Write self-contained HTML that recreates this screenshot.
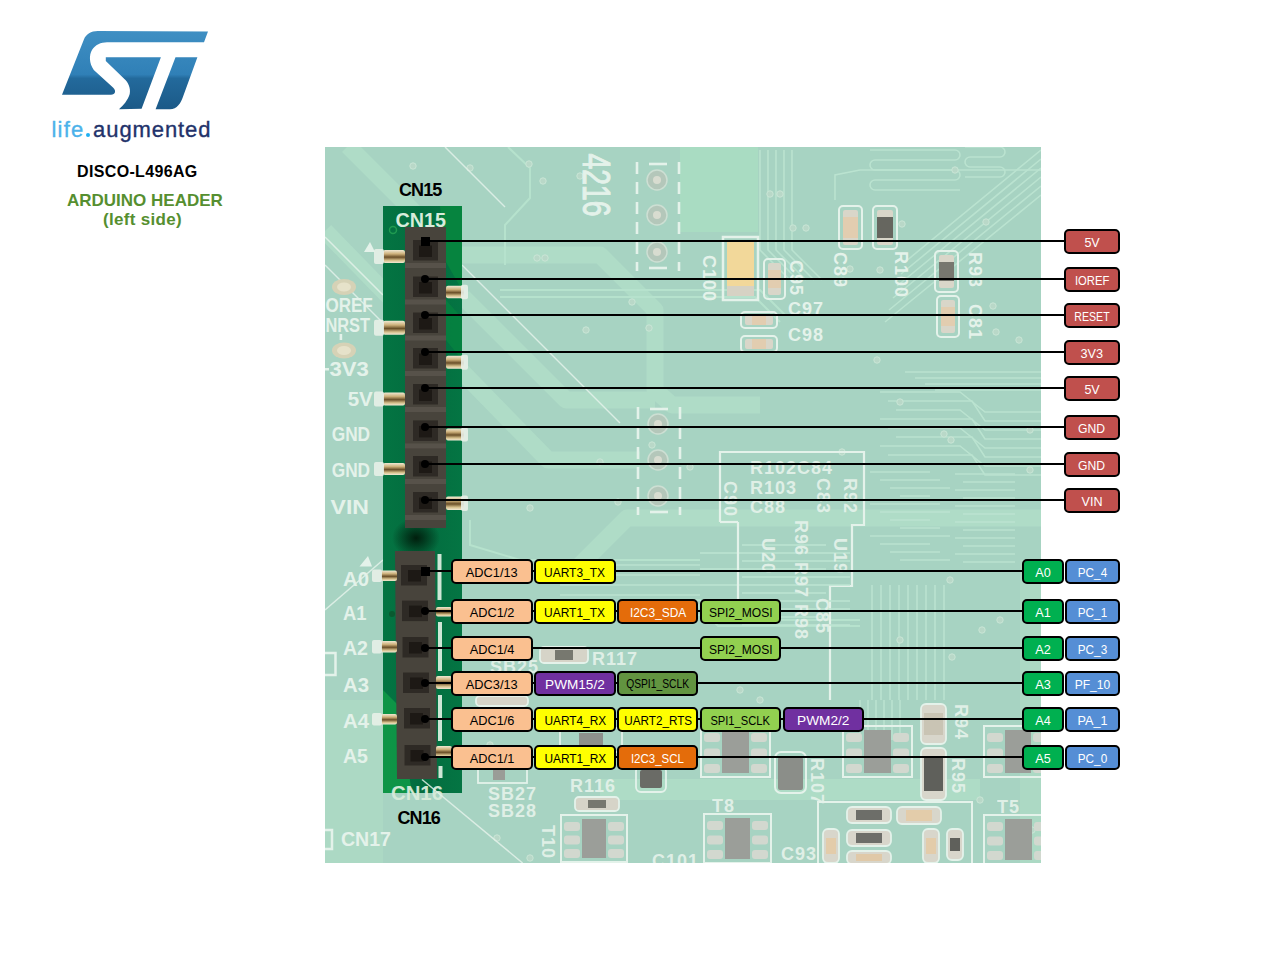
<!DOCTYPE html>
<html><head><meta charset="utf-8"><title>DISCO-L496AG Arduino header (left side)</title>
<style>
*{box-sizing:border-box;margin:0;padding:0}
html,body{width:1280px;height:960px;overflow:hidden;background:#fff;font-family:"Liberation Sans", sans-serif}
.a{position:absolute}
.bx{position:absolute;border:2px solid #000;border-radius:5px;display:flex;align-items:center;justify-content:center;white-space:nowrap;line-height:1}
.bx span{display:block;transform-origin:center}
.ln{position:absolute;height:2px;background:#000}
.dot{position:absolute;width:8px;height:8px;border-radius:50%;background:#000}
.sq{position:absolute;width:9px;height:9px;background:#000}
.t{position:absolute;white-space:nowrap;line-height:1}
</style></head><body>

<svg class="a" style="left:0;top:0" width="230" height="150" viewBox="0 0 230 150">
<defs><linearGradient id="lg" x1="0" y1="31" x2="0" y2="110" gradientUnits="userSpaceOnUse">
<stop offset="0" stop-color="#3f8fc3"/><stop offset="0.55" stop-color="#3080b7"/><stop offset="0.6" stop-color="#236a9c"/><stop offset="1" stop-color="#1b5987"/></linearGradient></defs>
<path fill="url(#lg)" d="M97.8,31 L208,31.6 L204,42.3 L107,42.3 C101,42.3 95,45 92,50 C89,55 89,63 93.8,70 L113,87.5 C116.5,90.5 115.5,94.7 111,94.7 L62,94.7 L83.9,39.6 C86,34 91,31 97.8,31 Z"/>
<path fill="url(#lg)" d="M105.8,57.3 L160.9,57.3 L141.6,108.8 L119,109.2 C123,106 128,100 129.7,94 C131,88 128,82 124.4,79 L105.8,61 Z"/>
<path fill="url(#lg)" d="M175.5,57.3 L197.4,57.3 L183,96.7 C181,103 177,109.2 170,109.2 L155.6,109.2 Z"/>
</svg>
<div class="t" style="left:51.5px;top:119.2px;font-size:22px;-webkit-text-stroke:0.35px"><span style="color:#4cb2ea;letter-spacing:1.2px;-webkit-text-stroke-color:#4cb2ea">life</span><span style="display:inline-block;width:4.4px;height:4.4px;border-radius:50%;background:#1fb0f2;margin-left:1.4px;margin-right:0.4px"></span><span style="color:#22326a;letter-spacing:0.9px;margin-left:2.5px;-webkit-text-stroke-color:#22326a">augmented</span></div>
<div class="t" style="left:77px;top:163.5px;font-size:16px;font-weight:bold;color:#000;letter-spacing:0.35px">DISCO-L496AG</div>
<div class="t" style="left:67px;top:191.5px;font-size:17px;font-weight:bold;color:#568f30">ARDUINO HEADER</div>
<div class="t" style="left:103px;top:211px;font-size:17px;letter-spacing:0.3px;font-weight:bold;color:#568f30">(left side)</div>
<svg class="a" style="left:325px;top:147px" width="716" height="716" viewBox="325 147 716 716" font-family="Liberation Sans, sans-serif"><rect x="325" y="147" width="716" height="716" fill="#a7d3c2"/>
<g fill="none" stroke="#afdcc7" stroke-width="17" stroke-linejoin="round">
<polyline points="348,146 457,255 600,255 655,310 655,390 672,405 760,405"/>
<polyline points="463,297 566,400 655,400"/>
<polyline points="325,231 548,460 640,460"/>
<polyline points="575,570 627,518 1041,518"/>
</g>
<g fill="#aedcc6">
<polygon points="680,147 758,147 758,232 680,232" fill="#a9dcc2"/>
<polygon points="325,700 383,700 383,863 325,863" fill="#acd9c4"/>
<polygon points="600,779 980,779 980,800 600,800"/>
<polygon points="1020,560 1041,560 1041,863 1020,863" fill="#acd9c4"/>
</g>
<g stroke="#b6e2cd" stroke-width="2" fill="none">
<polyline points="508,147 530,168 530,198 505,225 505,265"/>
<polyline points="500,290 760,290 785,315"/>
<polyline points="500,297 755,297 780,322"/>
<polyline points="470,520 470,545 520,560 700,560"/>
<polyline points="640,600 700,600 720,620 860,620"/>
<polyline points="640,606 698,606 718,626 860,626"/>
</g>
<g stroke="#bde5d2" stroke-width="1.6" fill="none" opacity="0.9">
<line x1="1041" y1="150" x2="905" y2="262"/>
<line x1="1041" y1="159" x2="901" y2="274"/>
<line x1="1041" y1="168" x2="897" y2="286"/>
<line x1="1041" y1="177" x2="893" y2="298"/>
<line x1="1041" y1="186" x2="889" y2="310"/>
<line x1="1041" y1="195" x2="885" y2="322"/>
<polyline points="880,392 960,392 985,412 1041,412"/>
<polyline points="888,401 972,401 985,421 1041,421"/>
<polyline points="896,410 960,410 985,430 1041,430"/>
<polyline points="880,419 972,419 985,439 1041,439"/>
<polyline points="888,428 960,428 985,448 1041,448"/>
<polyline points="896,437 972,437 985,457 1041,457"/>
<polyline points="880,446 960,446 985,466 1041,466"/>
<polyline points="888,455 972,455 985,475 1041,475"/>
<polyline points="870,472 930,472"/>
<polyline points="955,474 1015,474"/>
<polyline points="880,480 940,480"/>
<polyline points="963,482 1015,482"/>
<polyline points="890,488 950,488"/>
<polyline points="955,490 1015,490"/>
<polyline points="900,496 930,496"/>
<polyline points="963,498 1015,498"/>
<polyline points="870,504 940,504"/>
<polyline points="955,506 1015,506"/>
<polyline points="880,512 950,512"/>
<polyline points="963,514 1015,514"/>
<polyline points="890,520 930,520"/>
<polyline points="955,522 1015,522"/>
<polyline points="900,528 940,528"/>
<polyline points="963,530 1015,530"/>
<polyline points="870,536 950,536"/>
<polyline points="955,538 1015,538"/>
<polyline points="880,544 930,544"/>
<polyline points="963,546 1015,546"/>
<polyline points="890,552 940,552"/>
<polyline points="955,554 1015,554"/>
<polyline points="900,560 950,560"/>
<polyline points="963,562 1015,562"/>
<line x1="872" y1="585" x2="872" y2="700"/>
<line x1="881" y1="585" x2="881" y2="700"/>
<line x1="890" y1="585" x2="890" y2="700"/>
<line x1="899" y1="585" x2="899" y2="700"/>
<line x1="908" y1="585" x2="908" y2="700"/>
<line x1="917" y1="585" x2="917" y2="700"/>
<line x1="926" y1="585" x2="926" y2="700"/>
<line x1="935" y1="585" x2="935" y2="700"/>
<line x1="944" y1="585" x2="944" y2="700"/>
<line x1="560" y1="565" x2="700" y2="565"/>
<line x1="560" y1="575" x2="700" y2="575"/>
<line x1="560" y1="585" x2="700" y2="585"/>
<line x1="560" y1="595" x2="700" y2="595"/>
<line x1="560" y1="605" x2="700" y2="605"/>
<line x1="560" y1="615" x2="700" y2="615"/>
<polyline points="760,150 760,250 790,280"/>
<polyline points="768,150 768,250 798,280"/>
<polyline points="776,150 776,250 806,280"/>
<polyline points="784,150 784,250 814,280"/>
<polyline points="792,150 792,250 822,280"/>
<path d="M870,150 L955,150 A5,5 0 0 1 955,160 L875,160 A5,5 0 0 0 875,170 L955,170 A5,5 0 0 1 955,180 L875,180 A5,5 0 0 0 875,190 L960,190"/>
<path d="M965,147 L1000,147 A5,5 0 0 1 1000,157 L970,157 A5,5 0 0 0 970,167 L1000,167 A5,5 0 0 1 1000,177 L965,177"/>
<polyline points="835,200 835,175 860,170 1041,170"/>
<polyline points="905,372 1041,372"/>
<polyline points="915,378 1041,378"/>
<polyline points="925,384 1041,384"/>
<polyline points="935,390 1041,390"/>
<line x1="860" y1="700" x2="860" y2="740"/>
<line x1="868" y1="700" x2="868" y2="740"/>
<line x1="876" y1="700" x2="876" y2="740"/>
<line x1="884" y1="700" x2="884" y2="740"/>
<line x1="892" y1="700" x2="892" y2="740"/>
<line x1="900" y1="700" x2="900" y2="740"/>
</g>
<g fill="#b9d8c8" stroke="#c9e6d6" stroke-width="1">
<circle cx="413" cy="166" r="3.2"/>
<circle cx="470" cy="168" r="3.2"/>
<circle cx="529" cy="164" r="3.2"/>
<circle cx="543" cy="181" r="3.2"/>
<circle cx="580" cy="176" r="3.2"/>
<circle cx="537" cy="258" r="3.2"/>
<circle cx="545" cy="258" r="3.2"/>
<circle cx="649" cy="328" r="3.2"/>
<circle cx="586" cy="330" r="3.2"/>
<circle cx="632" cy="302" r="3.2"/>
<circle cx="600" cy="462" r="3.2"/>
<circle cx="652" cy="445" r="3.2"/>
<circle cx="530" cy="508" r="3.2"/>
<circle cx="618" cy="502" r="3.2"/>
<circle cx="690" cy="467" r="3.2"/>
<circle cx="770" cy="194" r="3.2"/>
<circle cx="780" cy="194" r="3.2"/>
<circle cx="793" cy="228" r="3.2"/>
<circle cx="806" cy="228" r="3.2"/>
<circle cx="850" cy="269" r="3.2"/>
<circle cx="880" cy="270" r="3.2"/>
<circle cx="902" cy="224" r="3.2"/>
<circle cx="955" cy="170" r="3.2"/>
<circle cx="986" cy="222" r="3.2"/>
<circle cx="993" cy="306" r="3.2"/>
<circle cx="996" cy="332" r="3.2"/>
<circle cx="1019" cy="340" r="3.2"/>
<circle cx="842" cy="452" r="3.2"/>
<circle cx="877" cy="360" r="3.2"/>
<circle cx="900" cy="402" r="3.2"/>
<circle cx="944" cy="434" r="3.2"/>
<circle cx="951" cy="440" r="3.2"/>
<circle cx="1030" cy="430" r="3.2"/>
<circle cx="1030" cy="470" r="3.2"/>
<circle cx="1000" cy="620" r="3.2"/>
<circle cx="982" cy="630" r="3.2"/>
<circle cx="950" cy="580" r="3.2"/>
<circle cx="900" cy="640" r="3.2"/>
<circle cx="952" cy="657" r="3.2"/>
<circle cx="760" cy="700" r="3.2"/>
<circle cx="740" cy="690" r="3.2"/>
<circle cx="980" cy="800" r="3.2"/>
<circle cx="1032" cy="830" r="3.2"/>
<circle cx="475" cy="760" r="3.2"/>
<circle cx="490" cy="745" r="3.2"/>
<circle cx="497" cy="838" r="3.2"/>
<circle cx="530" cy="858" r="3.2"/>
</g>
<g stroke="#e4f2ea" stroke-width="1.5" fill="none" opacity="0.85">
<line x1="445" y1="147" x2="505" y2="207"/>
<line x1="325" y1="237" x2="383" y2="295"/>
<line x1="325" y1="265" x2="383" y2="323"/>
<line x1="462" y1="265" x2="620" y2="423"/>
<line x1="325" y1="610" x2="383" y2="560"/>
</g>
<text x="325.4" y="312" font-size="20" font-weight="bold" fill="#e4f2ea" textLength="47.4" lengthAdjust="spacingAndGlyphs" opacity="1">OREF</text>
<text x="325.4" y="331.7" font-size="20" font-weight="bold" fill="#e4f2ea" textLength="44.6" lengthAdjust="spacingAndGlyphs" opacity="1">NRST</text>
<text x="329.4" y="376.4" font-size="20" font-weight="bold" fill="#e4f2ea" textLength="39.3" lengthAdjust="spacingAndGlyphs" opacity="1">3V3</text>
<text x="347.7" y="405.5" font-size="20" font-weight="bold" fill="#e4f2ea" textLength="25.1" lengthAdjust="spacingAndGlyphs" opacity="1">5V</text>
<text x="331.7" y="441.3" font-size="20" font-weight="bold" fill="#e4f2ea" textLength="38.4" lengthAdjust="spacingAndGlyphs" opacity="1">GND</text>
<text x="331.7" y="477.4" font-size="20" font-weight="bold" fill="#e4f2ea" textLength="38.4" lengthAdjust="spacingAndGlyphs" opacity="1">GND</text>
<text x="330.6" y="514" font-size="20" font-weight="bold" fill="#e4f2ea" textLength="38.4" lengthAdjust="spacingAndGlyphs" opacity="1">VIN</text>
<text x="343" y="586" font-size="20" font-weight="bold" fill="#e4f2ea" textLength="25.9" lengthAdjust="spacingAndGlyphs" opacity="1">A0</text>
<text x="343" y="619.5" font-size="20" font-weight="bold" fill="#e4f2ea" textLength="23.5" lengthAdjust="spacingAndGlyphs" opacity="1">A1</text>
<text x="343" y="654.7" font-size="20" font-weight="bold" fill="#e4f2ea" textLength="25.0" lengthAdjust="spacingAndGlyphs" opacity="1">A2</text>
<text x="343" y="692" font-size="20" font-weight="bold" fill="#e4f2ea" textLength="26.0" lengthAdjust="spacingAndGlyphs" opacity="1">A3</text>
<text x="343" y="728" font-size="20" font-weight="bold" fill="#e4f2ea" textLength="26.0" lengthAdjust="spacingAndGlyphs" opacity="1">A4</text>
<text x="343" y="763" font-size="20" font-weight="bold" fill="#e4f2ea" textLength="25.0" lengthAdjust="spacingAndGlyphs" opacity="1">A5</text>
<text x="341" y="846" font-size="20" font-weight="bold" fill="#e4f2ea" textLength="50.0" lengthAdjust="spacingAndGlyphs" opacity="1">CN17</text>
<rect x="325" y="368" width="4" height="2.5" fill="#e4f2ea"/><rect x="339.6" y="334" width="2.6" height="6" fill="#e4f2ea"/>
<polygon points="359.5,566.4 372,566.4 368,556" fill="#e4f2ea"/>
<polygon points="364,252 375,252 370,242" fill="#e4f2ea"/>
<ellipse cx="344" cy="287" rx="12" ry="8" fill="#d6d2b6"/><ellipse cx="344" cy="287" rx="7" ry="4.5" fill="#e6e2ca"/>
<ellipse cx="344" cy="350.5" rx="12" ry="8" fill="#d6d2b6"/><ellipse cx="344" cy="350.5" rx="7" ry="4.5" fill="#e6e2ca"/>
<rect x="320" y="653" width="15.5" height="22" fill="none" stroke="#e4f2ea" stroke-width="2.5"/>
<rect x="320" y="830" width="12" height="19" fill="none" stroke="#e4f2ea" stroke-width="2.5"/>
<text x="0" y="0" font-size="38" fill="#e4f2ea" transform="translate(583,153.5) rotate(90)" textLength="63" lengthAdjust="spacingAndGlyphs" stroke="#e4f2ea" stroke-width="1">4216</text>
<g stroke="#e4f2ea" stroke-width="2.6" stroke-dasharray="12 8"><line x1="637" y1="162" x2="637" y2="271"/><line x1="679" y1="162" x2="679" y2="271"/></g>
<line x1="649" y1="164" x2="667" y2="164" stroke="#e4f2ea" stroke-width="2.6"/>
<line x1="649" y1="268" x2="667" y2="268" stroke="#e4f2ea" stroke-width="2.6"/>
<circle cx="657" cy="180" r="10" fill="#b4c7ba" stroke="#cddfd3" stroke-width="1.5"/><circle cx="657" cy="180" r="4" fill="#d8dcd0"/>
<circle cx="657" cy="215" r="10" fill="#b4c7ba" stroke="#cddfd3" stroke-width="1.5"/><circle cx="657" cy="215" r="4" fill="#d8dcd0"/>
<circle cx="657" cy="252" r="10" fill="#b4c7ba" stroke="#cddfd3" stroke-width="1.5"/><circle cx="657" cy="252" r="4" fill="#d8dcd0"/>
<g stroke="#e4f2ea" stroke-width="2.6" stroke-dasharray="12 8"><line x1="638" y1="407" x2="638" y2="515"/><line x1="680" y1="407" x2="680" y2="515"/></g>
<line x1="650" y1="409" x2="668" y2="409" stroke="#e4f2ea" stroke-width="2.6"/>
<line x1="650" y1="512" x2="668" y2="512" stroke="#e4f2ea" stroke-width="2.6"/>
<circle cx="658" cy="424" r="10" fill="#b4c7ba" stroke="#cddfd3" stroke-width="1.5"/><circle cx="658" cy="424" r="4" fill="#d8dcd0"/>
<circle cx="658" cy="460" r="10" fill="#b4c7ba" stroke="#cddfd3" stroke-width="1.5"/><circle cx="658" cy="460" r="4" fill="#d8dcd0"/>
<circle cx="658" cy="496" r="10" fill="#b4c7ba" stroke="#cddfd3" stroke-width="1.5"/><circle cx="658" cy="496" r="4" fill="#d8dcd0"/>
<rect x="723" y="237" width="35" height="63" fill="none" stroke="#e4f2ea" stroke-width="2.5"/>
<rect x="727" y="241" width="27" height="50" fill="#f2d89a"/>
<rect x="727" y="286" width="27" height="10" fill="#d6d2c4"/>
<text x="703" y="255" font-size="18" font-weight="bold" fill="#e4f2ea" letter-spacing="1" text-anchor="start" opacity="1" transform="rotate(90 703 255)">C100</text>
<rect x="764" y="259" width="21" height="40" rx="4" fill="none" stroke="#e4f2ea" stroke-width="2"/>
<rect x="768" y="263" width="13" height="32" rx="2" fill="#d9d6c9"/><rect x="768" y="270" width="13" height="18" fill="#e2cdb0"/>
<rect x="741" y="312" width="36" height="16" rx="4" fill="none" stroke="#e4f2ea" stroke-width="2"/>
<rect x="745" y="315" width="28" height="10" rx="2" fill="#d9d6c9"/><rect x="752" y="315" width="14" height="10" fill="#e2cdb0"/>
<rect x="741" y="336" width="36" height="16" rx="4" fill="none" stroke="#e4f2ea" stroke-width="2"/>
<rect x="745" y="339" width="28" height="10" rx="2" fill="#d9d6c9"/><rect x="752" y="339" width="14" height="10" fill="#e2cdb0"/>
<rect x="839" y="206" width="23" height="43" rx="4" fill="none" stroke="#e4f2ea" stroke-width="2"/>
<rect x="843" y="210" width="15" height="35" rx="2" fill="#d9d6c9"/><rect x="843" y="217" width="15" height="21" fill="#e2cdb0"/>
<rect x="873" y="206" width="24" height="43" rx="4" fill="none" stroke="#e4f2ea" stroke-width="2"/>
<rect x="877" y="210" width="16" height="35" rx="2" fill="#d9d6c9"/><rect x="877" y="217" width="16" height="21" fill="#66665f"/>
<rect x="935" y="251" width="23" height="41" rx="4" fill="none" stroke="#e4f2ea" stroke-width="2"/>
<rect x="939" y="255" width="15" height="33" rx="2" fill="#d9d6c9"/><rect x="939" y="262" width="15" height="19" fill="#77776f"/>
<rect x="937" y="296" width="22" height="41" rx="4" fill="none" stroke="#e4f2ea" stroke-width="2"/>
<rect x="941" y="300" width="14" height="33" rx="2" fill="#d9d6c9"/><rect x="941" y="307" width="14" height="19" fill="#e2cdb0"/>
<text x="788" y="315" font-size="18" font-weight="bold" fill="#e4f2ea" letter-spacing="1" text-anchor="start" opacity="1">C97</text>
<text x="788" y="341" font-size="18" font-weight="bold" fill="#e4f2ea" letter-spacing="1" text-anchor="start" opacity="1">C98</text>
<text x="790" y="260" font-size="18" font-weight="bold" fill="#e4f2ea" letter-spacing="1" text-anchor="start" opacity="1" transform="rotate(90 790 260)">C95</text>
<text x="834" y="252" font-size="18" font-weight="bold" fill="#e4f2ea" letter-spacing="1" text-anchor="start" opacity="1" transform="rotate(90 834 252)">C89</text>
<text x="895" y="251" font-size="18" font-weight="bold" fill="#e4f2ea" letter-spacing="1" text-anchor="start" opacity="1" transform="rotate(90 895 251)">R100</text>
<text x="969" y="252" font-size="18" font-weight="bold" fill="#e4f2ea" letter-spacing="1" text-anchor="start" opacity="1" transform="rotate(90 969 252)">R93</text>
<text x="969" y="304" font-size="18" font-weight="bold" fill="#e4f2ea" letter-spacing="1" text-anchor="start" opacity="1" transform="rotate(90 969 304)">C81</text>
<polyline points="720,522 720,452 864,452 864,525 852,525 852,586 830,586 830,700" fill="none" stroke="#e4f2ea" stroke-width="2.2"/>
<g stroke="#bde5d2" stroke-width="1.5"><line x1="742" y1="545" x2="826" y2="545"/><line x1="700" y1="553" x2="850" y2="553"/><line x1="742" y1="561" x2="850" y2="561"/><line x1="700" y1="569" x2="826" y2="569"/><line x1="742" y1="577" x2="850" y2="577"/><line x1="700" y1="585" x2="850" y2="585"/><line x1="742" y1="593" x2="826" y2="593"/><line x1="700" y1="601" x2="850" y2="601"/><line x1="742" y1="609" x2="850" y2="609"/><line x1="700" y1="617" x2="826" y2="617"/><line x1="742" y1="625" x2="850" y2="625"/></g>
<polyline points="738,522 738,620" fill="none" stroke="#e4f2ea" stroke-width="2.2"/>
<polyline points="720,522 738,522" fill="none" stroke="#e4f2ea" stroke-width="2.2"/>
<text x="750" y="474" font-size="18" font-weight="bold" fill="#e4f2ea" letter-spacing="1" text-anchor="start" opacity="0.92">R102C84</text>
<text x="750" y="494" font-size="18" font-weight="bold" fill="#e4f2ea" letter-spacing="1" text-anchor="start" opacity="0.92">R103</text>
<text x="750" y="513" font-size="18" font-weight="bold" fill="#e4f2ea" letter-spacing="1" text-anchor="start" opacity="0.92">C88</text>
<text x="724" y="481" font-size="18" font-weight="bold" fill="#e4f2ea" letter-spacing="1" text-anchor="start" opacity="0.92" transform="rotate(90 724 481)">C90</text>
<text x="817" y="478" font-size="18" font-weight="bold" fill="#e4f2ea" letter-spacing="1" text-anchor="start" opacity="0.92" transform="rotate(90 817 478)">C83</text>
<text x="844" y="478" font-size="18" font-weight="bold" fill="#e4f2ea" letter-spacing="1" text-anchor="start" opacity="0.92" transform="rotate(90 844 478)">R92</text>
<text x="795" y="520" font-size="18" font-weight="bold" fill="#e4f2ea" letter-spacing="1" text-anchor="start" opacity="0.92" transform="rotate(90 795 520)">R96 R97 R98</text>
<text x="816" y="598" font-size="18" font-weight="bold" fill="#e4f2ea" letter-spacing="1" text-anchor="start" opacity="0.92" transform="rotate(90 816 598)">C85</text>
<text x="762" y="538" font-size="18" font-weight="bold" fill="#e4f2ea" letter-spacing="1" text-anchor="start" opacity="0.92" transform="rotate(90 762 538)">U20</text>
<text x="834" y="538" font-size="18" font-weight="bold" fill="#e4f2ea" letter-spacing="1" text-anchor="start" opacity="0.92" transform="rotate(90 834 538)">U19</text>
<text x="592" y="665" font-size="18" font-weight="bold" fill="#e4f2ea" letter-spacing="1" text-anchor="start" opacity="0.92">R117</text>
<text x="488" y="800" font-size="18" font-weight="bold" fill="#e4f2ea" letter-spacing="1" text-anchor="start" opacity="0.92">SB27</text>
<text x="488" y="817" font-size="18" font-weight="bold" fill="#e4f2ea" letter-spacing="1" text-anchor="start" opacity="0.92">SB28</text>
<text x="570" y="792" font-size="18" font-weight="bold" fill="#e4f2ea" letter-spacing="1" text-anchor="start" opacity="0.92">R116</text>
<text x="712" y="811.7" font-size="18" font-weight="bold" fill="#e4f2ea" letter-spacing="1" text-anchor="start" opacity="0.92">T8</text>
<text x="997" y="813" font-size="18" font-weight="bold" fill="#e4f2ea" letter-spacing="1" text-anchor="start" opacity="0.92">T5</text>
<text x="781" y="860" font-size="18" font-weight="bold" fill="#e4f2ea" letter-spacing="1" text-anchor="start" opacity="0.92">C93</text>
<text x="952" y="758" font-size="18" font-weight="bold" fill="#e4f2ea" letter-spacing="1" text-anchor="start" opacity="0.92" transform="rotate(90 952 758)">R95</text>
<text x="811" y="758" font-size="18" font-weight="bold" fill="#e4f2ea" letter-spacing="1" text-anchor="start" opacity="0.92" transform="rotate(90 811 758)">R107</text>
<text x="542" y="825" font-size="18" font-weight="bold" fill="#e4f2ea" letter-spacing="1" text-anchor="start" opacity="0.92" transform="rotate(90 542 825)">T10</text>
<text x="955" y="704" font-size="18" font-weight="bold" fill="#e4f2ea" letter-spacing="1" text-anchor="start" opacity="0.92" transform="rotate(90 955 704)">R94</text>
<text x="652" y="867" font-size="18" font-weight="bold" fill="#e4f2ea" letter-spacing="1" text-anchor="start" opacity="0.92">C101</text>
<rect x="701" y="726" width="69" height="51" fill="none" stroke="#e4f2ea" stroke-width="2"/>
<rect x="704" y="733.0" width="16" height="9" rx="3" fill="#d2d8cf"/><rect x="751" y="733.0" width="16" height="9" rx="3" fill="#d2d8cf"/>
<rect x="704" y="748.5" width="16" height="9" rx="3" fill="#d2d8cf"/><rect x="751" y="748.5" width="16" height="9" rx="3" fill="#d2d8cf"/>
<rect x="704" y="764.0" width="16" height="9" rx="3" fill="#d2d8cf"/><rect x="751" y="764.0" width="16" height="9" rx="3" fill="#d2d8cf"/>
<rect x="722" y="730" width="27" height="43" fill="#9b9e99"/>
<rect x="843" y="726" width="69" height="51" fill="none" stroke="#e4f2ea" stroke-width="2"/>
<rect x="846" y="733.0" width="16" height="9" rx="3" fill="#d2d8cf"/><rect x="893" y="733.0" width="16" height="9" rx="3" fill="#d2d8cf"/>
<rect x="846" y="748.5" width="16" height="9" rx="3" fill="#d2d8cf"/><rect x="893" y="748.5" width="16" height="9" rx="3" fill="#d2d8cf"/>
<rect x="846" y="764.0" width="16" height="9" rx="3" fill="#d2d8cf"/><rect x="893" y="764.0" width="16" height="9" rx="3" fill="#d2d8cf"/>
<rect x="864" y="730" width="27" height="43" fill="#9b9e99"/>
<rect x="984" y="726" width="68" height="51" fill="none" stroke="#e4f2ea" stroke-width="2"/>
<rect x="987" y="733.0" width="16" height="9" rx="3" fill="#d2d8cf"/><rect x="1033" y="733.0" width="16" height="9" rx="3" fill="#d2d8cf"/>
<rect x="987" y="748.5" width="16" height="9" rx="3" fill="#d2d8cf"/><rect x="1033" y="748.5" width="16" height="9" rx="3" fill="#d2d8cf"/>
<rect x="987" y="764.0" width="16" height="9" rx="3" fill="#d2d8cf"/><rect x="1033" y="764.0" width="16" height="9" rx="3" fill="#d2d8cf"/>
<rect x="1005" y="730" width="26" height="43" fill="#9b9e99"/>
<rect x="704" y="814" width="67" height="49" fill="none" stroke="#e4f2ea" stroke-width="2"/>
<rect x="707" y="821.0" width="16" height="9" rx="3" fill="#d2d8cf"/><rect x="752" y="821.0" width="16" height="9" rx="3" fill="#d2d8cf"/>
<rect x="707" y="835.5" width="16" height="9" rx="3" fill="#d2d8cf"/><rect x="752" y="835.5" width="16" height="9" rx="3" fill="#d2d8cf"/>
<rect x="707" y="850.0" width="16" height="9" rx="3" fill="#d2d8cf"/><rect x="752" y="850.0" width="16" height="9" rx="3" fill="#d2d8cf"/>
<rect x="725" y="818" width="25" height="41" fill="#9b9e99"/>
<rect x="984" y="815" width="69" height="49" fill="none" stroke="#e4f2ea" stroke-width="2"/>
<rect x="987" y="822.0" width="16" height="9" rx="3" fill="#d2d8cf"/><rect x="1034" y="822.0" width="16" height="9" rx="3" fill="#d2d8cf"/>
<rect x="987" y="836.5" width="16" height="9" rx="3" fill="#d2d8cf"/><rect x="1034" y="836.5" width="16" height="9" rx="3" fill="#d2d8cf"/>
<rect x="987" y="851.0" width="16" height="9" rx="3" fill="#d2d8cf"/><rect x="1034" y="851.0" width="16" height="9" rx="3" fill="#d2d8cf"/>
<rect x="1005" y="819" width="27" height="41" fill="#9b9e99"/>
<rect x="561" y="815" width="66" height="47" fill="none" stroke="#e4f2ea" stroke-width="2"/>
<rect x="564" y="822.0" width="16" height="9" rx="3" fill="#d2d8cf"/><rect x="608" y="822.0" width="16" height="9" rx="3" fill="#d2d8cf"/>
<rect x="564" y="835.5" width="16" height="9" rx="3" fill="#d2d8cf"/><rect x="608" y="835.5" width="16" height="9" rx="3" fill="#d2d8cf"/>
<rect x="564" y="849.0" width="16" height="9" rx="3" fill="#d2d8cf"/><rect x="608" y="849.0" width="16" height="9" rx="3" fill="#d2d8cf"/>
<rect x="582" y="819" width="24" height="39" fill="#9b9e99"/>
<rect x="775" y="752" width="31" height="41" rx="6" fill="none" stroke="#e4f2ea" stroke-width="2"/><rect x="778" y="757" width="25" height="33" rx="2" fill="#8b8e89"/>
<polyline points="818,863 818,802 972,802 972,863" fill="none" stroke="#e4f2ea" stroke-width="2"/>
<rect x="921" y="748" width="25" height="52" rx="5" fill="#d8d6cb" stroke="#e4f2ea" stroke-width="1.8"/>
<rect x="924" y="757" width="19" height="34" fill="#5f605b"/>
<rect x="921" y="704" width="25" height="40" rx="5" fill="#d8d6cb" stroke="#e4f2ea" stroke-width="1.8"/>
<rect x="924" y="713" width="19" height="22" fill="#c9c4b4"/>
<rect x="847" y="807" width="44" height="16" rx="5" fill="#d8d6cb" stroke="#e4f2ea" stroke-width="1.8"/>
<rect x="856" y="810" width="26" height="10" fill="#6d6e69"/>
<rect x="847" y="830" width="44" height="16" rx="5" fill="#d8d6cb" stroke="#e4f2ea" stroke-width="1.8"/>
<rect x="856" y="833" width="26" height="10" fill="#6d6e69"/>
<rect x="847" y="851" width="44" height="13" rx="5" fill="#d8d6cb" stroke="#e4f2ea" stroke-width="1.8"/>
<rect x="856" y="854" width="26" height="7" fill="#e0c9a8"/>
<rect x="897" y="807" width="44" height="17" rx="5" fill="#d8d6cb" stroke="#e4f2ea" stroke-width="1.8"/>
<rect x="906" y="810" width="26" height="11" fill="#e3ccaa"/>
<rect x="823" y="829" width="16" height="34" rx="5" fill="#d8d6cb" stroke="#e4f2ea" stroke-width="1.8"/>
<rect x="826" y="838" width="10" height="16" fill="#e3ccaa"/>
<rect x="923" y="829" width="16" height="34" rx="5" fill="#d8d6cb" stroke="#e4f2ea" stroke-width="1.8"/>
<rect x="926" y="838" width="10" height="16" fill="#e3ccaa"/>
<rect x="947" y="829" width="16" height="31" rx="5" fill="#d8d6cb" stroke="#e4f2ea" stroke-width="1.8"/>
<rect x="950" y="838" width="10" height="13" fill="#5f605b"/>
<rect x="540" y="647" width="48" height="16" rx="4" fill="#d6d4c8" stroke="#e4f2ea" stroke-width="1.8"/>
<rect x="555.0" y="650" width="18" height="10" fill="#77786f"/>
<rect x="575" y="797" width="44" height="14" rx="4" fill="#d6d4c8" stroke="#e4f2ea" stroke-width="1.8"/>
<rect x="588.0" y="800" width="18" height="8" fill="#77786f"/>
<rect x="476" y="696" width="52" height="10" rx="4" fill="#d6d4c8" stroke="#e4f2ea" stroke-width="1.8"/>
<text x="490" y="673" font-size="18" font-weight="bold" fill="#e4f2ea" letter-spacing="1" text-anchor="start" opacity="0.9">SB25</text>
<rect x="560" y="728" width="62" height="24" fill="none" stroke="#e4f2ea" stroke-width="1.8"/><rect x="579" y="733" width="24" height="14" fill="#8e918c"/>
<rect x="636" y="766" width="30" height="26" rx="5" fill="none" stroke="#e4f2ea" stroke-width="1.8"/><rect x="640" y="770" width="22" height="18" rx="2" fill="#6a6b66"/>
<rect x="478" y="766" width="49" height="17" fill="none" stroke="#e4f2ea" stroke-width="1.8"/><rect x="493" y="769" width="12" height="11" fill="#9a9c97"/>
<defs><linearGradient id="sg" x1="0" y1="0" x2="1" y2="0"><stop offset="0" stop-color="#047442"/><stop offset="0.5" stop-color="#036c3f"/><stop offset="1" stop-color="#047543"/></linearGradient><radialGradient id="sh" cx="0.5" cy="0.5" r="0.5"><stop offset="0" stop-color="#001a0a" stop-opacity="0.95"/><stop offset="1" stop-color="#001a0a" stop-opacity="0"/></radialGradient></defs>
<rect x="383" y="206" width="79" height="587" fill="url(#sg)"/>
<polygon points="383,690 383,793 412,793 398,705" fill="#11a048" opacity="0.75"/>
<polygon points="440,206 462,206 462,290 446,262" fill="#07883f" opacity="0.8"/>
<polygon points="446,300 462,318 462,360 446,340" fill="#07883f" opacity="0.6"/>
<ellipse cx="416" cy="538" rx="24" ry="20" fill="url(#sh)"/>
<text x="395.5" y="226.6" font-size="20" font-weight="bold" fill="#d8ecdb" textLength="50.5" lengthAdjust="spacingAndGlyphs">CN15</text>
<text x="391" y="799.5" font-size="20" font-weight="bold" fill="#d8ecdb" textLength="52" lengthAdjust="spacingAndGlyphs" opacity="0.95">CN16</text>
<g fill="#cfe6d6"><rect x="437.5" y="554" width="4" height="46"/><rect x="438" y="622" width="4" height="49"/><rect x="438" y="695" width="4" height="46"/><rect x="438.5" y="766" width="4" height="12"/></g>
<line x1="422" y1="779.5" x2="522.6" y2="863" stroke="#e4f2ea" stroke-width="1.5" opacity="0.85"/>
<circle cx="393" cy="230" r="3.5" fill="none" stroke="#1f9a50" stroke-width="1.5"/><circle cx="392" cy="614" r="3" fill="#0a5a30"/>
<defs><linearGradient id="pgl" x1="0" y1="0" x2="0" y2="1"><stop offset="0" stop-color="#f0e9d4"/><stop offset="0.3" stop-color="#cdb07a"/><stop offset="0.55" stop-color="#6a4f28"/><stop offset="0.8" stop-color="#d6c08c"/><stop offset="1" stop-color="#f2ead6"/></linearGradient></defs>
<rect x="405" y="227" width="41" height="301" fill="#48443c"/>
<rect x="405" y="263" width="41" height="5" fill="#57524a"/>
<rect x="413" y="240" width="25" height="20.5" fill="#2e2a25"/>
<rect x="419" y="245.5" width="13" height="11.5" fill="#1d1915"/>
<rect x="383" y="250" width="22" height="13" rx="2" fill="url(#pgl)"/>
<rect x="374" y="249" width="10" height="15" rx="2" fill="#e8efe8" opacity="0.9"/>
<rect x="405" y="299.5" width="41" height="5" fill="#57524a"/>
<rect x="413" y="276.5" width="25" height="20.5" fill="#2e2a25"/>
<rect x="419" y="282.0" width="13" height="11.5" fill="#1d1915"/>
<rect x="446" y="285.8" width="18" height="12.5" rx="2" fill="url(#pgl)"/>
<rect x="461" y="284.8" width="7" height="14.5" rx="2" fill="#e8efe8" opacity="0.9"/>
<rect x="405" y="335.5" width="41" height="5" fill="#57524a"/>
<rect x="413" y="312.5" width="25" height="20.5" fill="#2e2a25"/>
<rect x="419" y="318.0" width="13" height="11.5" fill="#1d1915"/>
<rect x="383" y="320.8" width="22" height="14" rx="2" fill="url(#pgl)"/>
<rect x="374" y="319.8" width="10" height="16" rx="2" fill="#e8efe8" opacity="0.9"/>
<rect x="405" y="371" width="41" height="5" fill="#57524a"/>
<rect x="413" y="348" width="25" height="20.5" fill="#2e2a25"/>
<rect x="419" y="353.5" width="13" height="11.5" fill="#1d1915"/>
<rect x="446" y="355.8" width="18" height="13" rx="2" fill="url(#pgl)"/>
<rect x="461" y="354.8" width="7" height="15" rx="2" fill="#e8efe8" opacity="0.9"/>
<rect x="405" y="407" width="41" height="5" fill="#57524a"/>
<rect x="413" y="384" width="25" height="20.5" fill="#2e2a25"/>
<rect x="419" y="389.5" width="13" height="11.5" fill="#1d1915"/>
<rect x="383" y="392.5" width="22" height="13" rx="2" fill="url(#pgl)"/>
<rect x="374" y="391.5" width="10" height="15" rx="2" fill="#e8efe8" opacity="0.9"/>
<rect x="405" y="443.4" width="41" height="5" fill="#57524a"/>
<rect x="413" y="420.4" width="25" height="20.5" fill="#2e2a25"/>
<rect x="419" y="425.9" width="13" height="11.5" fill="#1d1915"/>
<rect x="446" y="428.4" width="18" height="12" rx="2" fill="url(#pgl)"/>
<rect x="461" y="427.4" width="7" height="14" rx="2" fill="#e8efe8" opacity="0.9"/>
<rect x="405" y="479" width="41" height="5" fill="#57524a"/>
<rect x="413" y="456" width="25" height="20.5" fill="#2e2a25"/>
<rect x="419" y="461.5" width="13" height="11.5" fill="#1d1915"/>
<rect x="383" y="463" width="22" height="12" rx="2" fill="url(#pgl)"/>
<rect x="374" y="462" width="10" height="14" rx="2" fill="#e8efe8" opacity="0.9"/>
<rect x="405" y="515" width="41" height="5" fill="#57524a"/>
<rect x="413" y="492" width="25" height="20.5" fill="#2e2a25"/>
<rect x="419" y="497.5" width="13" height="11.5" fill="#1d1915"/>
<rect x="446" y="496.5" width="18" height="13.5" rx="2" fill="url(#pgl)"/>
<rect x="461" y="495.5" width="7" height="15.5" rx="2" fill="#e8efe8" opacity="0.9"/>
<polygon points="395,551 435,551 437,779 397,779" fill="#48443c"/>
<rect x="401" y="565" width="26" height="20.5" fill="#2e2a25"/>
<rect x="408" y="570" width="13" height="11.5" fill="#1d1915"/>
<rect x="381" y="570.6" width="16" height="10.5" rx="2" fill="url(#pgl)"/>
<rect x="372" y="569.6" width="10" height="12.5" rx="2" fill="#e8efe8" opacity="0.9"/>
<rect x="402" y="600.6" width="26" height="20.5" fill="#2e2a25"/>
<rect x="409" y="605.6" width="13" height="11.5" fill="#1d1915"/>
<rect x="436" y="607" width="16" height="9.5" rx="2" fill="url(#pgl)"/>
<rect x="402.5" y="637" width="26" height="20.5" fill="#2e2a25"/>
<rect x="409" y="642" width="13" height="11.5" fill="#1d1915"/>
<rect x="381" y="641" width="16" height="11.5" rx="2" fill="url(#pgl)"/>
<rect x="372" y="640" width="10" height="13.5" rx="2" fill="#e8efe8" opacity="0.9"/>
<rect x="403" y="672.5" width="26" height="20.5" fill="#2e2a25"/>
<rect x="410" y="677.5" width="13" height="11.5" fill="#1d1915"/>
<rect x="436" y="676" width="16" height="13" rx="2" fill="url(#pgl)"/>
<rect x="404" y="708" width="26" height="20.5" fill="#2e2a25"/>
<rect x="410" y="713" width="13" height="11.5" fill="#1d1915"/>
<rect x="381" y="714" width="16" height="10.5" rx="2" fill="url(#pgl)"/>
<rect x="372" y="713" width="10" height="12.5" rx="2" fill="#e8efe8" opacity="0.9"/>
<rect x="404.5" y="745" width="26" height="20.5" fill="#2e2a25"/>
<rect x="410.5" y="750" width="13" height="11.5" fill="#1d1915"/>
<rect x="436" y="746" width="16" height="11.5" rx="2" fill="url(#pgl)"/></svg>
<div class="t" style="left:399px;top:181px;font-size:18px;font-weight:bold;letter-spacing:-0.9px">CN15</div>
<div class="t" style="left:397.5px;top:809px;font-size:18px;font-weight:bold;letter-spacing:-0.9px">CN16</div>
<div class="ln" style="left:425px;top:240px;width:641px"></div>
<div class="sq" style="left:421px;top:237px"></div>
<div class="bx" style="left:1064.30px;top:229.30px;width:55.40px;height:24.40px;background:#c0504d;color:#fff;font-size:13.18px"><span style="transform:translateY(0.5px) scaleX(0.953)">5V</span></div>
<div class="ln" style="left:425px;top:278px;width:641px"></div>
<div class="dot" style="left:421px;top:275px"></div>
<div class="bx" style="left:1064.30px;top:267.30px;width:55.40px;height:24.40px;background:#c0504d;color:#fff;font-size:13.18px"><span style="transform:translateY(0.5px) scaleX(0.854)">IOREF</span></div>
<div class="ln" style="left:425px;top:314px;width:641px"></div>
<div class="dot" style="left:421px;top:311px"></div>
<div class="bx" style="left:1064.30px;top:303.30px;width:55.40px;height:24.40px;background:#c0504d;color:#fff;font-size:13.18px"><span style="transform:translateY(0.5px) scaleX(0.803)">RESET</span></div>
<div class="ln" style="left:425px;top:351px;width:641px"></div>
<div class="dot" style="left:421px;top:348px"></div>
<div class="bx" style="left:1064.30px;top:340.30px;width:55.40px;height:24.40px;background:#c0504d;color:#fff;font-size:13.18px"><span style="transform:translateY(0.5px) scaleX(0.964)">3V3</span></div>
<div class="ln" style="left:425px;top:387px;width:641px"></div>
<div class="dot" style="left:421px;top:384px"></div>
<div class="bx" style="left:1064.30px;top:376.30px;width:55.40px;height:24.40px;background:#c0504d;color:#fff;font-size:13.18px"><span style="transform:translateY(0.5px) scaleX(0.953)">5V</span></div>
<div class="ln" style="left:425px;top:426px;width:641px"></div>
<div class="dot" style="left:421px;top:423px"></div>
<div class="bx" style="left:1064.30px;top:415.30px;width:55.40px;height:24.40px;background:#c0504d;color:#fff;font-size:13.18px"><span style="transform:translateY(0.5px) scaleX(0.924)">GND</span></div>
<div class="ln" style="left:425px;top:463px;width:641px"></div>
<div class="dot" style="left:421px;top:460px"></div>
<div class="bx" style="left:1064.30px;top:452.30px;width:55.40px;height:24.40px;background:#c0504d;color:#fff;font-size:13.18px"><span style="transform:translateY(0.5px) scaleX(0.924)">GND</span></div>
<div class="ln" style="left:425px;top:499px;width:641px"></div>
<div class="dot" style="left:421px;top:496px"></div>
<div class="bx" style="left:1064.30px;top:488.30px;width:55.40px;height:24.40px;background:#c0504d;color:#fff;font-size:13.18px"><span style="transform:translateY(0.5px) scaleX(0.953)">VIN</span></div>
<div class="ln" style="left:425px;top:570px;width:599px"></div>
<div class="sq" style="left:421px;top:567px"></div>
<div class="bx" style="left:451.30px;top:559.30px;width:81.40px;height:24.40px;background:#fac090;color:#000;font-size:13.18px"><span style="transform:translateY(0.5px) scaleX(0.972)">ADC1/13</span></div>
<div class="bx" style="left:534.15px;top:559.30px;width:81.40px;height:24.40px;background:#ffff00;color:#000;font-size:13.18px"><span style="transform:translateY(0.5px) scaleX(0.908)">UART3_TX</span></div>
<div class="bx" style="left:1022.20px;top:559.30px;width:41.40px;height:24.40px;background:#00b050;color:#fff;font-size:13.18px"><span style="transform:translateY(0.5px) scaleX(0.963)">A0</span></div>
<div class="bx" style="left:1064.60px;top:559.30px;width:55.20px;height:24.40px;background:#558ed5;color:#fff;font-size:13.18px"><span style="transform:translateY(0.5px) scaleX(0.891)">PC_4</span></div>
<div class="ln" style="left:425px;top:610px;width:599px"></div>
<div class="dot" style="left:421px;top:607px"></div>
<div class="bx" style="left:451.30px;top:599.30px;width:81.40px;height:24.40px;background:#fac090;color:#000;font-size:13.18px"><span style="transform:translateY(0.5px) scaleX(0.970)">ADC1/2</span></div>
<div class="bx" style="left:534.15px;top:599.30px;width:81.40px;height:24.40px;background:#ffff00;color:#000;font-size:13.18px"><span style="transform:translateY(0.5px) scaleX(0.908)">UART1_TX</span></div>
<div class="bx" style="left:617.00px;top:599.30px;width:81.40px;height:24.40px;background:#e46c0a;color:#fff;font-size:13.18px"><span style="transform:translateY(0.5px) scaleX(0.907)">I2C3_SDA</span></div>
<div class="bx" style="left:699.85px;top:599.30px;width:81.40px;height:24.40px;background:#92d050;color:#000;font-size:13.18px"><span style="transform:translateY(0.5px) scaleX(0.917)">SPI2_MOSI</span></div>
<div class="bx" style="left:1022.20px;top:599.30px;width:41.40px;height:24.40px;background:#00b050;color:#fff;font-size:13.18px"><span style="transform:translateY(0.5px) scaleX(0.963)">A1</span></div>
<div class="bx" style="left:1064.60px;top:599.30px;width:55.20px;height:24.40px;background:#558ed5;color:#fff;font-size:13.18px"><span style="transform:translateY(0.5px) scaleX(0.891)">PC_1</span></div>
<div class="ln" style="left:425px;top:647px;width:599px"></div>
<div class="dot" style="left:421px;top:644px"></div>
<div class="bx" style="left:451.30px;top:636.30px;width:81.40px;height:24.40px;background:#fac090;color:#000;font-size:13.18px"><span style="transform:translateY(0.5px) scaleX(0.970)">ADC1/4</span></div>
<div class="bx" style="left:699.85px;top:636.30px;width:81.40px;height:24.40px;background:#92d050;color:#000;font-size:13.18px"><span style="transform:translateY(0.5px) scaleX(0.917)">SPI2_MOSI</span></div>
<div class="bx" style="left:1022.20px;top:636.30px;width:41.40px;height:24.40px;background:#00b050;color:#fff;font-size:13.18px"><span style="transform:translateY(0.5px) scaleX(0.963)">A2</span></div>
<div class="bx" style="left:1064.60px;top:636.30px;width:55.20px;height:24.40px;background:#558ed5;color:#fff;font-size:13.18px"><span style="transform:translateY(0.5px) scaleX(0.891)">PC_3</span></div>
<div class="ln" style="left:425px;top:682px;width:599px"></div>
<div class="dot" style="left:421px;top:679px"></div>
<div class="bx" style="left:451.30px;top:671.30px;width:81.40px;height:24.40px;background:#fac090;color:#000;font-size:13.18px"><span style="transform:translateY(0.5px) scaleX(0.972)">ADC3/13</span></div>
<div class="bx" style="left:534.15px;top:671.30px;width:81.40px;height:24.40px;background:#7030a0;color:#fff;font-size:13.18px"><span style="transform:translateY(0.5px) scaleX(1.031)">PWM15/2</span></div>
<div class="bx" style="left:617.00px;top:671.30px;width:81.40px;height:24.40px;background:#629440;color:#000;font-size:11.98px"><span style="transform:translateY(-0.2px) scaleX(0.859)">QSPI1_SCLK</span></div>
<div class="bx" style="left:1022.20px;top:671.30px;width:41.40px;height:24.40px;background:#00b050;color:#fff;font-size:13.18px"><span style="transform:translateY(0.5px) scaleX(0.963)">A3</span></div>
<div class="bx" style="left:1064.60px;top:671.30px;width:55.20px;height:24.40px;background:#558ed5;color:#fff;font-size:13.18px"><span style="transform:translateY(0.5px) scaleX(0.916)">PF_10</span></div>
<div class="ln" style="left:425px;top:718px;width:599px"></div>
<div class="dot" style="left:421px;top:715px"></div>
<div class="bx" style="left:451.30px;top:707.30px;width:81.40px;height:24.40px;background:#fac090;color:#000;font-size:13.18px"><span style="transform:translateY(0.5px) scaleX(0.970)">ADC1/6</span></div>
<div class="bx" style="left:534.15px;top:707.30px;width:81.40px;height:24.40px;background:#ffff00;color:#000;font-size:13.18px"><span style="transform:translateY(0.5px) scaleX(0.900)">UART4_RX</span></div>
<div class="bx" style="left:617.00px;top:707.30px;width:81.40px;height:24.40px;background:#ffff00;color:#000;font-size:13.18px"><span style="transform:translateY(0.5px) scaleX(0.888)">UART2_RTS</span></div>
<div class="bx" style="left:699.85px;top:707.30px;width:81.40px;height:24.40px;background:#92d050;color:#000;font-size:13.18px"><span style="transform:translateY(0.5px) scaleX(0.847)">SPI1_SCLK</span></div>
<div class="bx" style="left:782.70px;top:707.30px;width:81.40px;height:24.40px;background:#7030a0;color:#fff;font-size:13.18px"><span style="transform:translateY(0.5px) scaleX(1.037)">PWM2/2</span></div>
<div class="bx" style="left:1022.20px;top:707.30px;width:41.40px;height:24.40px;background:#00b050;color:#fff;font-size:13.18px"><span style="transform:translateY(0.5px) scaleX(0.963)">A4</span></div>
<div class="bx" style="left:1064.60px;top:707.30px;width:55.20px;height:24.40px;background:#558ed5;color:#fff;font-size:13.18px"><span style="transform:translateY(0.5px) scaleX(0.961)">PA_1</span></div>
<div class="ln" style="left:425px;top:756px;width:599px"></div>
<div class="dot" style="left:421px;top:753px"></div>
<div class="bx" style="left:451.30px;top:745.30px;width:81.40px;height:24.40px;background:#fac090;color:#000;font-size:13.18px"><span style="transform:translateY(0.5px) scaleX(0.970)">ADC1/1</span></div>
<div class="bx" style="left:534.15px;top:745.30px;width:81.40px;height:24.40px;background:#ffff00;color:#000;font-size:13.18px"><span style="transform:translateY(0.5px) scaleX(0.900)">UART1_RX</span></div>
<div class="bx" style="left:617.00px;top:745.30px;width:81.40px;height:24.40px;background:#e46c0a;color:#fff;font-size:13.18px"><span style="transform:translateY(0.5px) scaleX(0.872)">I2C3_SCL</span></div>
<div class="bx" style="left:1022.20px;top:745.30px;width:41.40px;height:24.40px;background:#00b050;color:#fff;font-size:13.18px"><span style="transform:translateY(0.5px) scaleX(0.963)">A5</span></div>
<div class="bx" style="left:1064.60px;top:745.30px;width:55.20px;height:24.40px;background:#558ed5;color:#fff;font-size:13.18px"><span style="transform:translateY(0.5px) scaleX(0.891)">PC_0</span></div>
</body></html>
